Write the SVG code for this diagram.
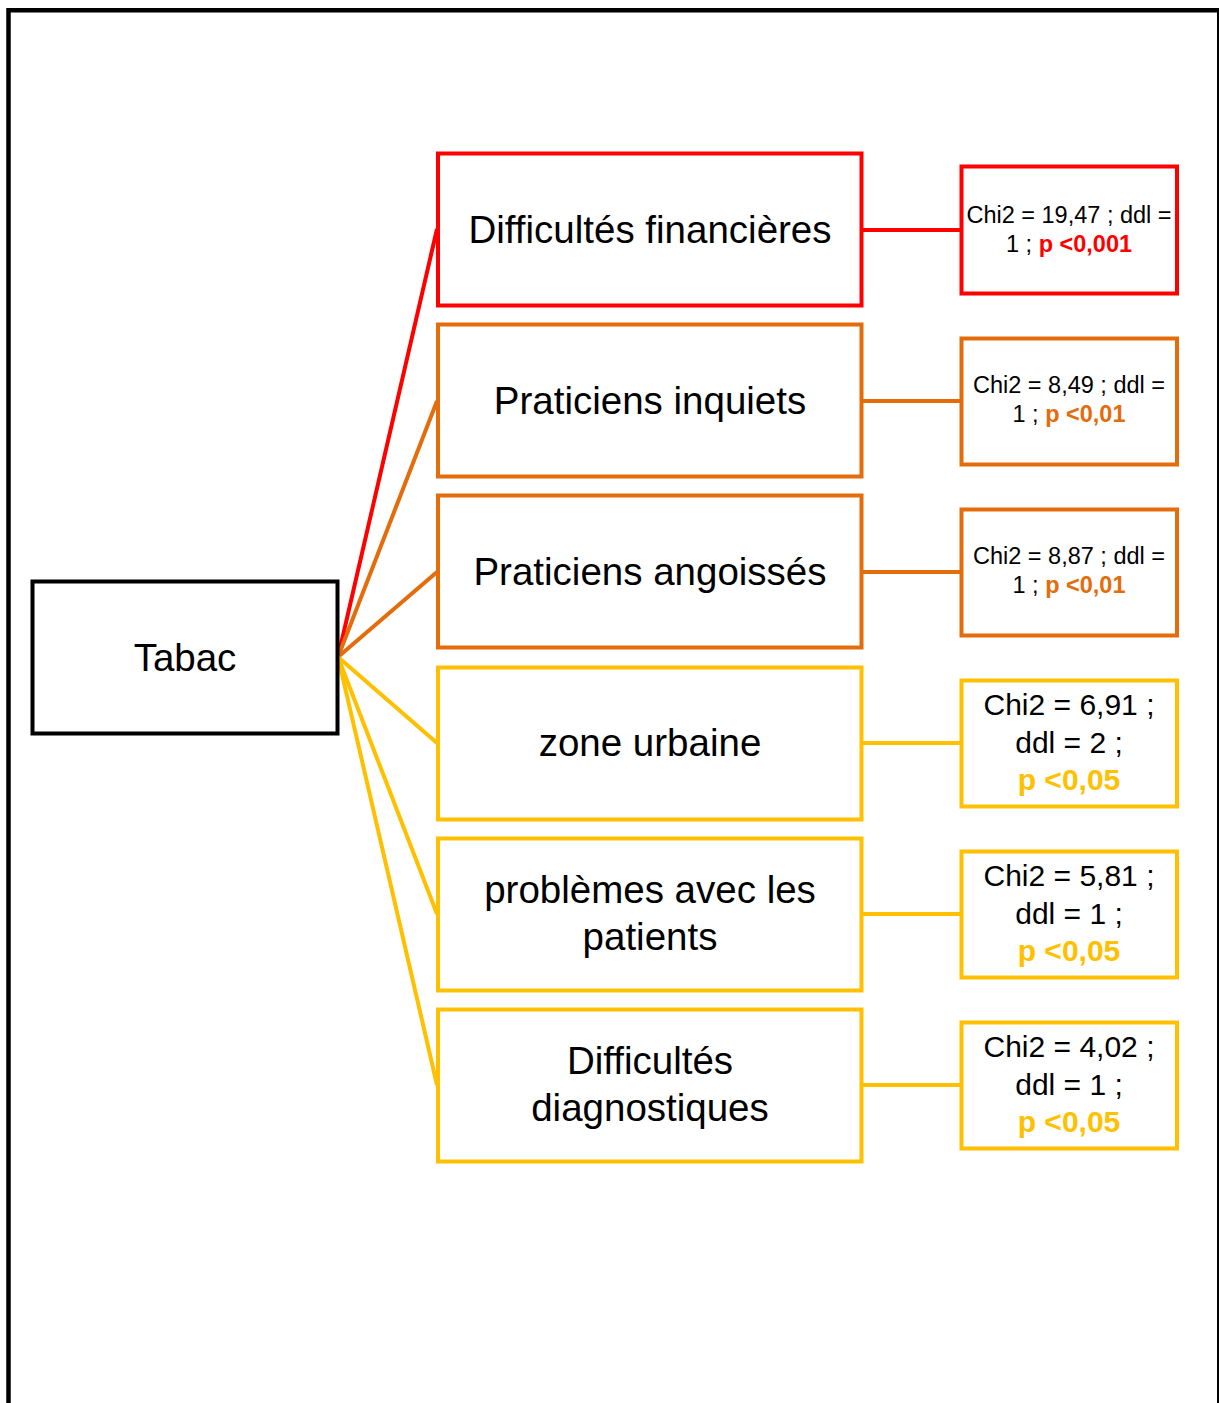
<svg xmlns="http://www.w3.org/2000/svg" width="1219" height="1403" viewBox="0 0 1219 1403">
<style>
.bg{fill:#fff}
.frame{fill:none;stroke:#000;stroke-width:4.5}
.box{fill:#fff;stroke-width:4}
.red{stroke:#FF0000}
.org{stroke:#E46C0A}
.yel{stroke:#FFC000}
.blk{stroke:#000}
.t{font-family:"Liberation Sans",Arial,sans-serif;fill:#000;text-anchor:middle}
.n{font-size:38.5px}
.s1{font-size:23.5px}
.s2{font-size:30px}
.b{font-weight:bold}
.fr{fill:#FF0000}
.fo{fill:#E46C0A}
.fy{fill:#FFC000}
.con line{stroke-width:4}
</style>
<rect class="bg" x="0" y="0" width="1219" height="1403"/>
<path class="frame" d="M8.5,1403 V10.3 H1219"/>
<line x1="1218" y1="10" x2="1218" y2="1403" stroke="#000" stroke-width="2"/>

<g id="connectors" class="con">
<line class="red" x1="338" y1="657" x2="437" y2="229"/>
<line class="org" x1="338" y1="657" x2="437" y2="401"/>
<line class="org" x1="338" y1="657" x2="437" y2="572"/>
<line class="yel" x1="338" y1="657" x2="437" y2="743"/>
<line class="yel" x1="338" y1="657" x2="437" y2="914"/>
<line class="yel" x1="338" y1="657" x2="437" y2="1085"/>
<line class="red" x1="862" y1="230" x2="961" y2="230"/>
<line class="org" x1="862" y1="401" x2="961" y2="401"/>
<line class="org" x1="862" y1="572" x2="961" y2="572"/>
<line class="yel" x1="862" y1="743" x2="961" y2="743"/>
<line class="yel" x1="862" y1="914" x2="961" y2="914"/>
<line class="yel" x1="862" y1="1085" x2="961" y2="1085"/>
</g>

<g id="tabac">
<rect class="box blk" x="32.5" y="581.5" width="305" height="152" stroke-width="4.5"/>
<text class="t n" x="185" y="671">Tabac</text>
</g>

<g id="n1">
<rect class="box red" x="438" y="153.5" width="423.5" height="152"/>
<text class="t n" x="650" y="243">Difficultés financières</text>
</g>
<g id="n2">
<rect class="box org" x="438" y="324.5" width="423.5" height="152"/>
<text class="t n" x="650" y="414">Praticiens inquiets</text>
</g>
<g id="n3">
<rect class="box org" x="438" y="495.5" width="423.5" height="152"/>
<text class="t n" x="650" y="585">Praticiens angoissés</text>
</g>
<g id="n4">
<rect class="box yel" x="438" y="667.5" width="423.5" height="152"/>
<text class="t n" x="650" y="756">zone urbaine</text>
</g>
<g id="n5">
<rect class="box yel" x="438" y="838.5" width="423.5" height="152"/>
<text class="t n" x="650" y="903">problèmes avec les</text>
<text class="t n" x="650" y="950">patients</text>
</g>
<g id="n6">
<rect class="box yel" x="438" y="1009.5" width="423.5" height="152"/>
<text class="t n" x="650" y="1074">Difficultés</text>
<text class="t n" x="650" y="1121">diagnostiques</text>
</g>

<g id="s1">
<rect class="box red" x="961.5" y="166.5" width="215.5" height="127"/>
<text class="t s1" x="1069" y="223">Chi2 = 19,47 ; ddl =</text>
<text class="t s1" x="1069" y="252">1 ; <tspan class="b fr">p &lt;0,001</tspan></text>
</g>
<g id="s2">
<rect class="box org" x="961.5" y="338.5" width="215.5" height="126"/>
<text class="t s1" x="1069" y="393">Chi2 = 8,49 ; ddl =</text>
<text class="t s1" x="1069" y="422">1 ; <tspan class="b fo">p &lt;0,01</tspan></text>
</g>
<g id="s3">
<rect class="box org" x="961.5" y="509.5" width="215.5" height="126"/>
<text class="t s1" x="1069" y="564">Chi2 = 8,87 ; ddl =</text>
<text class="t s1" x="1069" y="593">1 ; <tspan class="b fo">p &lt;0,01</tspan></text>
</g>
<g id="s4">
<rect class="box yel" x="961.5" y="680.5" width="215.5" height="126"/>
<text class="t s2" x="1069" y="715">Chi2 = 6,91 ;</text>
<text class="t s2" x="1069" y="753">ddl = 2 ;</text>
<text class="t s2 b fy" x="1069" y="790">p &lt;0,05</text>
</g>
<g id="s5">
<rect class="box yel" x="961.5" y="851.5" width="215.5" height="126"/>
<text class="t s2" x="1069" y="886">Chi2 = 5,81 ;</text>
<text class="t s2" x="1069" y="924">ddl = 1 ;</text>
<text class="t s2 b fy" x="1069" y="961">p &lt;0,05</text>
</g>
<g id="s6">
<rect class="box yel" x="961.5" y="1022.5" width="215.5" height="126"/>
<text class="t s2" x="1069" y="1057">Chi2 = 4,02 ;</text>
<text class="t s2" x="1069" y="1095">ddl = 1 ;</text>
<text class="t s2 b fy" x="1069" y="1132">p &lt;0,05</text>
</g>
</svg>
